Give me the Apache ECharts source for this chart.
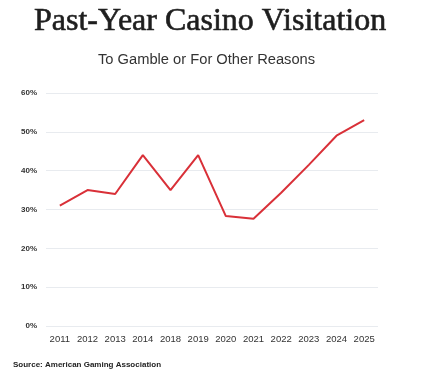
<!DOCTYPE html>
<html><head><meta charset="utf-8">
<script src="https://cdn.jsdelivr.net/npm/echarts@6/dist/echarts.min.js"></script>
<style>html,body{margin:0;padding:0;background:#fff}#c{width:430px;height:373px}</style>
</head><body><div id="c"></div>
<script>
const years = ['2011','2012','2013','2014','2018','2019','2020','2021','2022','2023','2024','2025'];
const visitation = [31, 35, 34, 44, 35, 44, 28.3, 27.6, 34.3, 41.5, 49, 53];
const yTicks = [0, 10, 20, 30, 40, 50, 60];

const chart = echarts.init(document.getElementById('c'));
chart.setOption({
  backgroundColor: '#ffffff',
  animation: false,
  title: [
    {text: 'Past-Year Casino Visitation', left: 34, top: 6, padding: 0,
     textStyle: {fontFamily: 'Liberation Serif', fontSize: 32, fontWeight: 'normal', color: '#1e1e1e', textBorderColor: '#1e1e1e', textBorderWidth: 0.6}},
    {text: 'To Gamble or For Other Reasons', left: 98, top: 52, padding: 0,
     textStyle: {fontFamily: 'Liberation Sans', fontSize: 14.7, fontWeight: 'normal', color: '#333'}},
    {text: 'Source: American Gaming Association', left: 13, top: 361, padding: 0,
     textStyle: {fontFamily: 'Liberation Sans', fontSize: 8, fontWeight: 'bold', color: '#222'}}
  ],
  grid: {left: 46, right: 52, top: 93, bottom: 47},
  xAxis: {
    type: 'category', data: years, boundaryGap: true,
    axisLine: {show: false}, axisTick: {show: false},
    axisLabel: {fontFamily: 'Liberation Sans', fontSize: 9.5, color: '#333', margin: 8}
  },
  yAxis: {
    type: 'value', min: yTicks[0], max: yTicks[yTicks.length-1], interval: 10,
    axisLine: {show: false}, axisTick: {show: false},
    axisLabel: {formatter: v => v + '%', fontFamily: 'Liberation Sans', fontSize: 8, fontWeight: 'bold', color: '#333', margin: 9},
    splitLine: {lineStyle: {color: '#e8ebef', width: 1}}
  },
  series: [{
    type: 'line', data: visitation, symbol: 'none',
    lineStyle: {color: '#d93038', width: 2}
  }]
});
</script></body></html>
